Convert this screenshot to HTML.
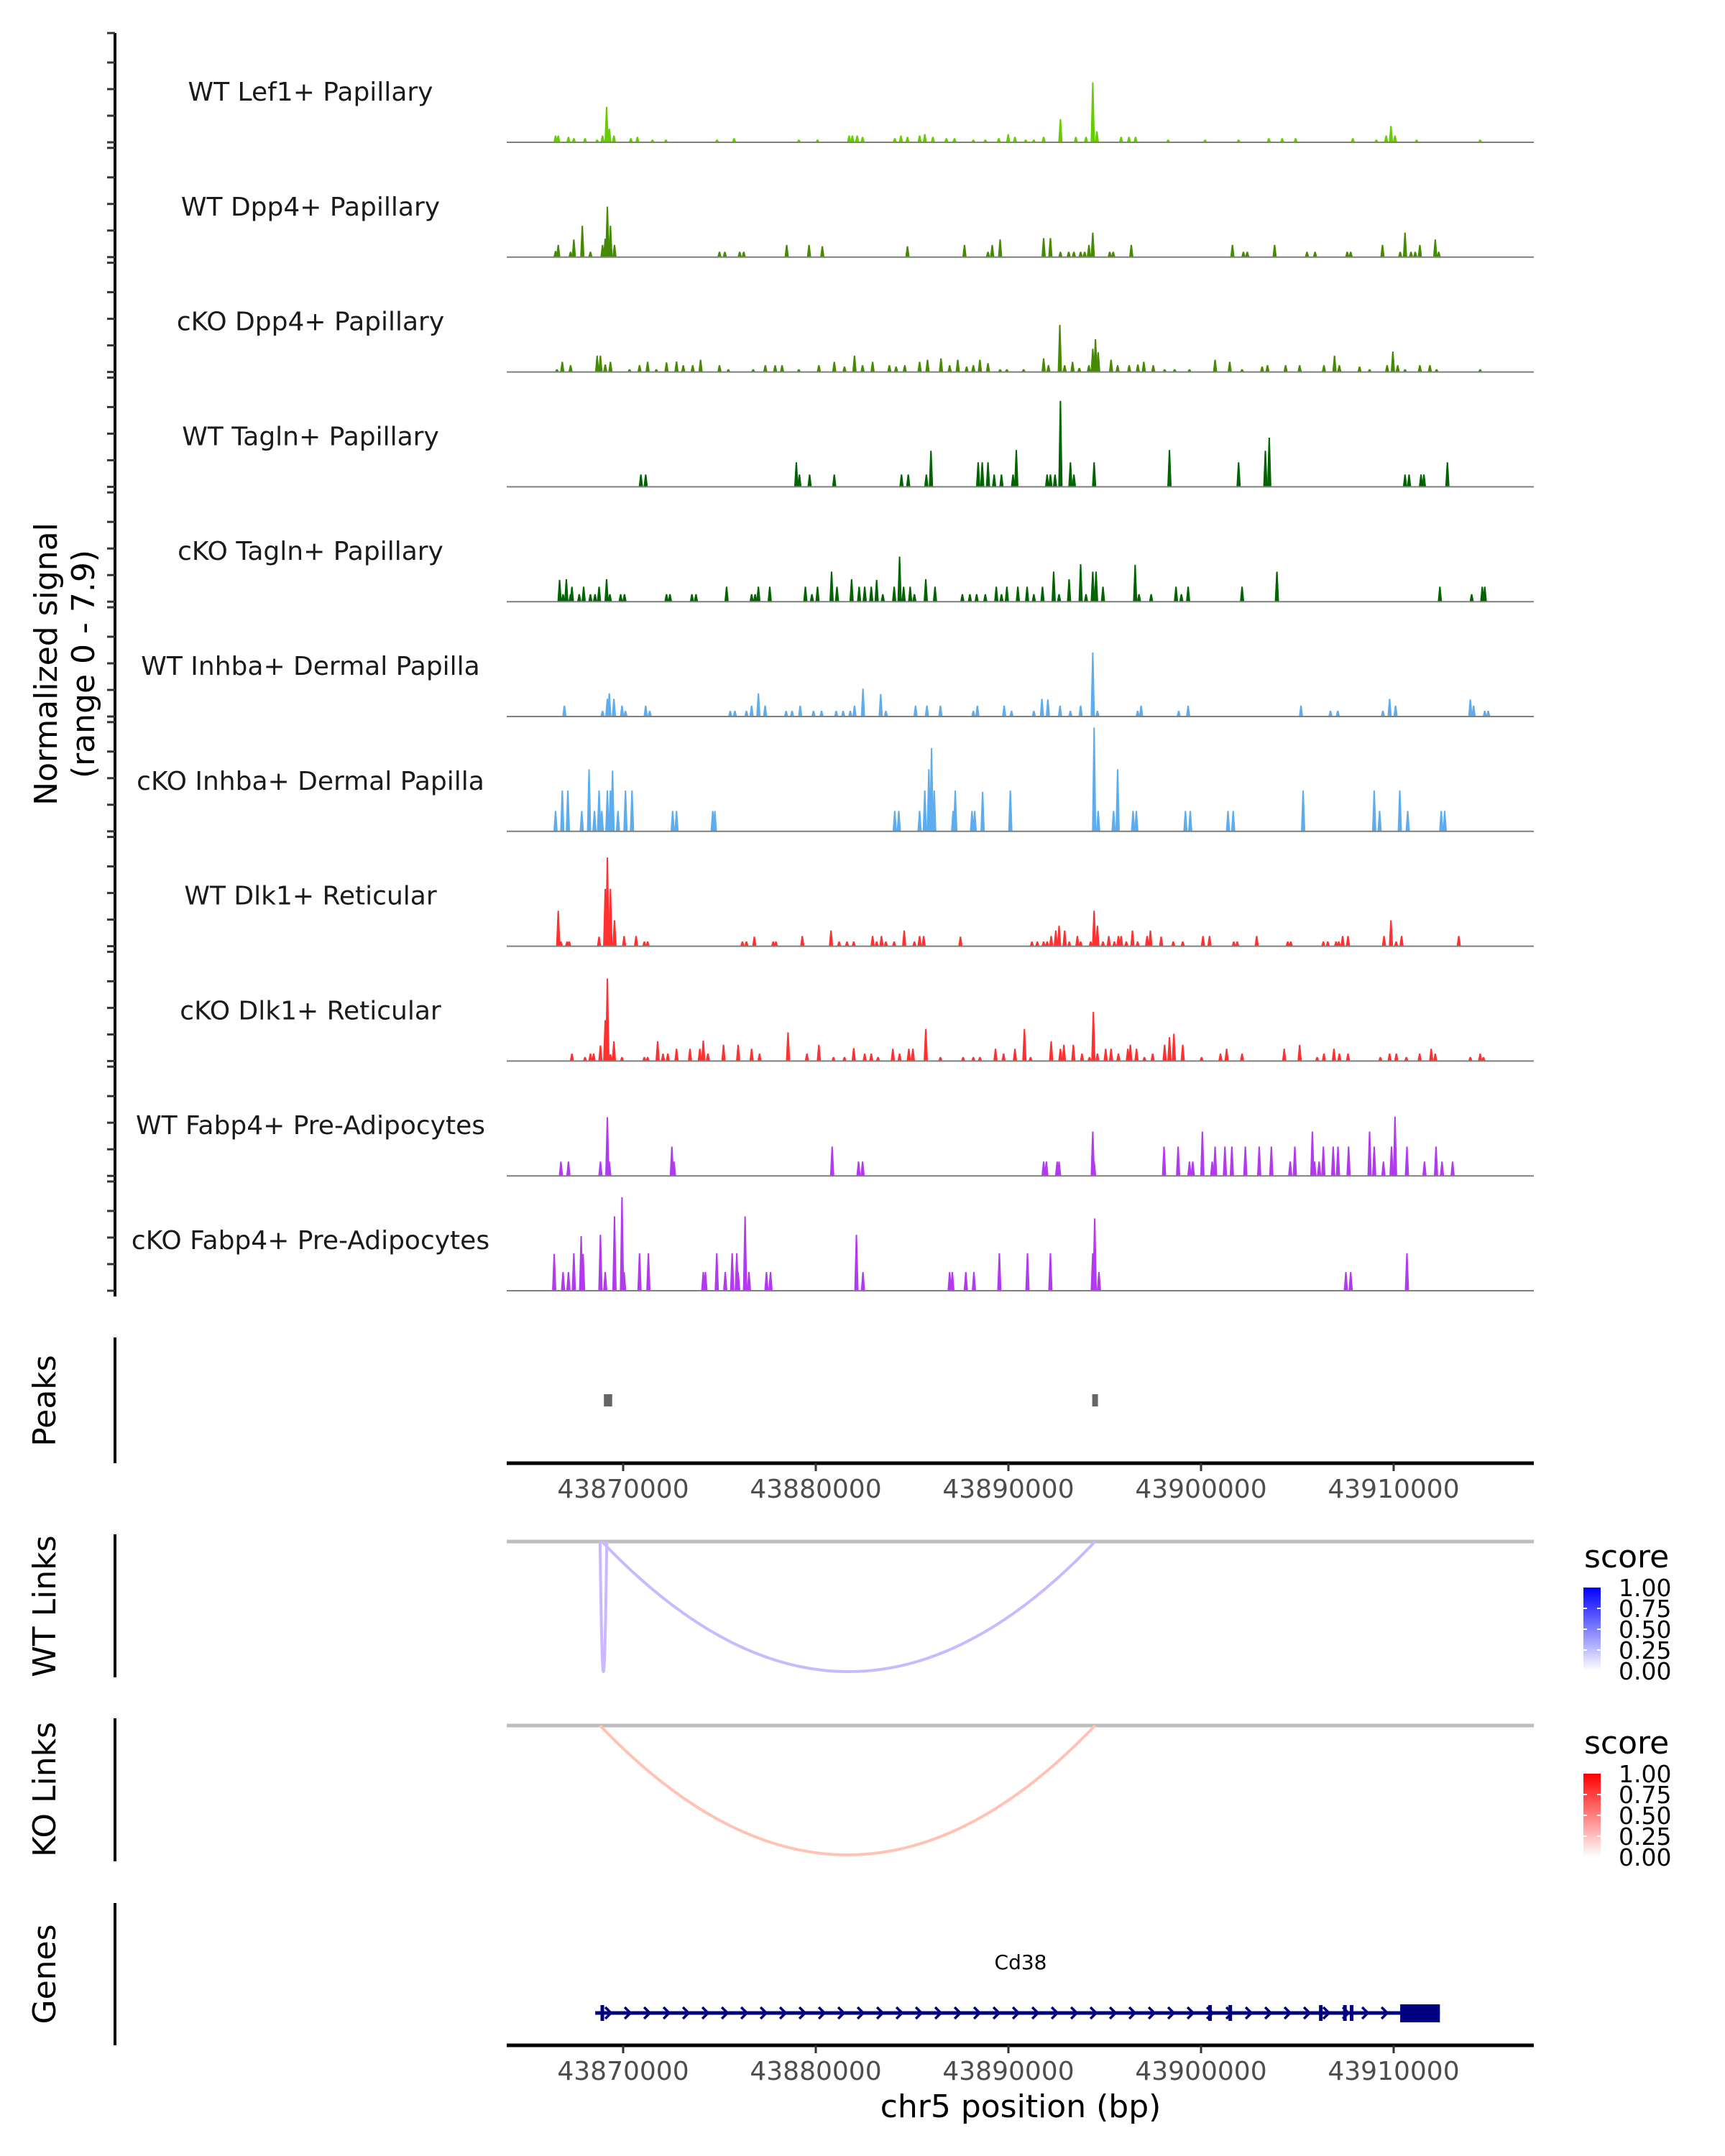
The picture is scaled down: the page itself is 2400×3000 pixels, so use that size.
<!DOCTYPE html>
<html><head><meta charset="utf-8"><style>
html,body{margin:0;padding:0;background:#fff;}
svg{display:block;font-family:"DejaVu Sans","Liberation Sans",sans-serif;}
</style></head><body>
<svg id="chart" width="2400" height="3000" viewBox="0 0 2400 3000" xmlns="http://www.w3.org/2000/svg">
<defs>
<linearGradient id="gBlue" x1="0" y1="0" x2="0" y2="1"><stop offset="0" stop-color="#0000ff"/><stop offset="1" stop-color="#ffffff"/></linearGradient>
<linearGradient id="gRed" x1="0" y1="0" x2="0" y2="1"><stop offset="0" stop-color="#ff0000"/><stop offset="1" stop-color="#ffffff"/></linearGradient>
</defs>
<g id="tracks"></g>
<g id="axes"></g>
</svg>
<script>
// genomic coordinates in kb, relative to 43860000 bp
const regionOriginKb = 43860;
const xTicksBp = [43870000, 43880000, 43890000, 43900000, 43910000];
const trackNames = ["WT Lef1+ Papillary","WT Dpp4+ Papillary","cKO Dpp4+ Papillary","WT Tagln+ Papillary","cKO Tagln+ Papillary","WT Inhba+ Dermal Papilla","cKO Inhba+ Dermal Papilla","WT Dlk1+ Reticular","cKO Dlk1+ Reticular","WT Fabp4+ Pre-Adipocytes","cKO Fabp4+ Pre-Adipocytes"];
const trackColors = ["#66cd00","#458b00","#458b00","#006400","#006400","#5cacee","#5cacee","#ff3030","#ff3030","#b23aee","#b23aee"];
const signalMax = 7.9;
const lef1WT = [[6.49,.5],[6.63,.5],[7.16,.4],[7.44,.3],[8.02,.3],[8.65,.2],[8.93,.5],[9.14,2.6],[9.28,1.0],[9.52,.5],[10.40,.3],[10.74,.4],[11.52,.2],[12.22,.2],[14.87,.2],[15.76,.3],[19.12,.2],[20.09,.2],[21.73,.5],[21.90,.5],[22.15,.5],[22.43,.4],[24.10,.3],[24.42,.5],[24.76,.4],[25.39,.5],[25.66,.6],[26.08,.4],[26.78,.3],[27.20,.3],[28.18,.2],[28.80,.2],[29.50,.3],[29.99,.6],[30.34,.4],[30.90,.2],[31.32,.2],[31.83,.4],[32.70,1.7],[33.50,.4],[34.03,.4],[34.38,4.4],[34.59,.8],[35.85,.4],[36.26,.4],[36.60,.4],[38.29,.2],[40.21,.2],[41.95,.2],[43.52,.3],[44.21,.3],[44.91,.3],[47.88,.3],[49.10,.2],[49.61,.5],[49.86,1.2],[50.07,.5],[51.19,.2],[54.49,.2]];
const dpp4WT = [[6.49,.45],[6.63,.9],[7.27,.4],[7.44,1.3],[7.88,2.3],[8.30,.4],[8.93,.9],[9.07,1.35],[9.18,3.7],[9.34,2.3],[9.55,.9],[15.00,.4],[15.28,.4],[16.05,.4],[16.26,.4],[18.49,.9],[19.65,.9],[20.34,.8],[24.76,.8],[27.72,.9],[28.94,.4],[29.16,.9],[29.57,1.3],[31.83,1.4],[32.18,1.4],[32.70,.4],[33.13,.4],[33.40,.4],[33.75,.4],[33.96,.4],[34.18,.9],[34.38,1.8],[35.26,.4],[35.44,.4],[36.38,.9],[41.63,.9],[42.20,.4],[42.40,.4],[43.82,.9],[45.50,.4],[45.92,.4],[47.59,.4],[47.77,.4],[49.42,.9],[50.34,.4],[50.59,1.8],[50.90,.4],[51.12,.4],[51.36,.9],[52.16,1.3],[52.34,.4]];
const dpp4KO = [[6.56,.2],[6.84,.75],[7.27,.5],[8.65,1.2],[8.82,1.2],[9.07,.55],[9.34,.75],[10.33,.2],[10.85,.5],[11.27,.75],[11.72,.2],[12.25,.7],[12.77,.77],[13.12,.5],[13.61,.5],[14.02,.9],[15.00,.5],[15.46,.2],[16.75,.2],[17.38,.5],[17.89,.5],[18.25,.5],[19.12,.2],[20.16,.5],[20.96,.75],[21.49,.4],[22.01,1.2],[22.43,.5],[22.95,.75],[23.82,.5],[24.17,.4],[24.62,.5],[25.39,.75],[25.80,.9],[26.50,1.0],[26.95,.5],[27.37,.9],[27.83,.4],[28.18,.5],[28.52,.9],[28.94,.65],[29.57,.2],[29.92,.2],[30.79,.2],[31.83,1.0],[32.08,.5],[32.67,3.45],[32.92,.5],[33.33,.75],[33.68,.3],[34.18,.5],[34.38,1.7],[34.52,2.4],[34.66,1.45],[35.33,.9],[35.67,.5],[36.27,.5],[36.72,.55],[37.03,.75],[37.52,.5],[38.11,.2],[38.63,.2],[39.40,.2],[40.73,.9],[41.49,.75],[42.13,.2],[43.17,.4],[43.45,.5],[44.39,.5],[45.12,.5],[46.38,.5],[46.93,1.2],[47.18,.5],[48.23,.4],[48.75,.2],[49.66,.5],[49.96,1.5],[50.21,.5],[50.59,.2],[51.36,.5],[51.88,.5],[52.23,.2],[54.49,.2]];
const taglnWT = [[10.92,.9],[11.17,.9],[18.99,1.8],[19.15,.9],[19.68,.9],[20.96,.9],[24.45,.9],[24.80,.9],[25.74,.9],[25.98,2.65],[28.43,1.8],[28.64,1.8],[28.94,1.8],[29.26,.9],[29.64,.9],[30.24,.9],[30.41,2.7],[32.01,.9],[32.18,.9],[32.42,.9],[32.70,6.3],[33.22,1.8],[33.40,.9],[34.45,1.8],[38.36,2.7],[41.95,1.8],[43.34,2.65],[43.54,3.6],[50.59,.9],[50.80,.9],[51.42,.9],[51.57,.9],[52.79,1.8]];
const taglnKO = [[6.70,1.6],[6.88,.55],[7.05,1.65],[7.27,.55],[7.34,1.1],[7.72,.55],[7.95,1.1],[8.30,.55],[8.54,.55],[8.75,1.1],[9.14,1.65],[9.31,.55],[9.87,.55],[10.07,.55],[12.25,.55],[12.43,.55],[13.57,.55],[13.78,.55],[15.37,1.1],[16.67,.55],[16.85,.55],[17.02,1.1],[17.61,1.1],[19.46,1.1],[19.80,.55],[20.09,1.1],[20.82,2.2],[21.10,1.1],[21.86,1.65],[22.25,1.1],[22.54,1.1],[22.88,1.1],[23.16,1.6],[23.48,.55],[24.07,1.1],[24.35,3.3],[24.56,1.1],[24.90,1.1],[25.12,.55],[25.71,1.65],[26.19,1.1],[27.61,.55],[28.00,.55],[28.35,.55],[28.80,.55],[29.37,1.1],[29.64,.55],[29.92,1.1],[30.49,1.1],[30.97,1.1],[31.32,.55],[31.77,1.1],[32.35,2.2],[32.63,.55],[33.15,1.65],[33.75,2.75],[34.03,.55],[34.38,2.2],[34.55,2.2],[34.91,1.1],[36.58,2.7],[36.78,.55],[37.41,.55],[38.70,1.1],[38.98,.55],[39.33,1.1],[42.13,1.1],[43.94,2.2],[52.40,1.1],[54.05,.55],[54.60,1.1],[54.73,1.1]];
const inhbaWT = [[6.95,.8],[8.93,.42],[9.18,1.3],[9.28,1.7],[9.52,1.3],[9.94,.8],[10.12,.42],[11.17,.8],[11.38,.42],[15.56,.42],[15.80,.42],[16.40,.42],[16.67,.8],[17.02,1.7],[17.37,.8],[18.46,.42],[18.77,.42],[19.19,.8],[19.88,.42],[20.30,.42],[21.06,.42],[21.42,.42],[21.79,.42],[22.01,.8],[22.45,2.05],[23.37,1.65],[23.64,.42],[25.18,.8],[25.77,.8],[26.47,.8],[28.18,.42],[28.39,.8],[29.78,.8],[30.16,.42],[31.32,.42],[31.74,1.3],[32.05,1.25],[32.68,.8],[33.22,.42],[33.75,.8],[34.38,4.7],[34.62,.42],[36.71,.42],[36.89,.8],[38.84,.42],[39.33,.8],[45.19,.8],[46.72,.42],[47.10,.42],[49.44,.42],[49.79,1.3],[50.10,.8],[53.98,1.25],[54.15,.8],[54.73,.42],[54.91,.42]];
const inhbaKO = [[6.49,1.5],[6.84,3.0],[7.13,3.0],[7.85,1.5],[8.23,4.55],[8.51,1.5],[8.75,3.0],[8.89,1.5],[9.18,3.0],[9.34,3.0],[9.45,4.45],[9.73,1.5],[10.12,3.0],[10.46,3.0],[12.57,1.5],[12.77,1.5],[14.65,1.5],[14.76,1.5],[24.10,1.5],[24.31,1.5],[25.39,1.5],[25.66,3.0],[25.87,4.55],[26.01,6.1],[26.15,3.0],[27.13,1.5],[27.24,3.0],[28.11,1.5],[28.25,1.5],[28.66,2.9],[30.10,3.0],[34.45,7.6],[34.66,1.5],[35.46,1.5],[35.67,4.55],[36.47,1.5],[36.64,1.5],[39.19,1.5],[39.44,1.5],[41.40,1.5],[41.67,1.5],[45.30,3.0],[48.99,3.0],[49.27,1.5],[50.32,3.0],[50.73,1.5],[52.47,1.5],[52.65,1.5]];
const dlk1WT = [[6.63,2.6],[6.77,.35],[7.09,.35],[7.20,.35],[8.75,.7],[9.07,4.2],[9.18,6.5],[9.34,4.2],[9.55,1.9],[10.05,.75],[10.67,.75],[11.10,.35],[11.27,.35],[16.19,.35],[16.40,.35],[16.81,.7],[17.79,.35],[17.93,.35],[19.30,.75],[20.79,1.15],[21.21,.35],[21.62,.35],[21.97,.35],[22.95,.75],[23.16,.35],[23.41,.75],[23.64,.35],[24.07,.35],[24.59,1.15],[25.12,.35],[25.39,.75],[25.60,.75],[27.51,.7],[31.22,.35],[31.50,.35],[31.83,.35],[32.01,.35],[32.22,.75],[32.46,1.15],[32.63,1.5],[32.92,1.15],[33.16,.35],[33.58,.75],[33.75,.35],[34.27,.35],[34.45,2.6],[34.62,1.5],[34.91,.35],[35.21,.75],[35.50,.35],[35.71,.75],[35.85,.75],[36.12,.35],[36.44,1.15],[36.71,.35],[37.20,.75],[37.37,1.15],[37.93,.7],[38.56,.35],[39.05,.35],[40.10,.75],[40.44,.75],[41.70,.35],[41.88,.35],[42.89,.75],[44.50,.35],[44.66,.35],[46.35,.35],[46.58,.35],[47.01,.35],[47.15,.35],[47.35,.75],[47.63,.75],[49.50,.75],[49.86,1.9],[50.13,.35],[50.41,.75],[53.38,.75]];
const dlk1KO = [[7.34,.55],[8.02,.3],[8.30,.55],[8.47,.55],[8.82,1.15],[9.07,3.0],[9.18,6.05],[9.34,.5],[9.52,1.45],[9.94,.3],[11.10,.3],[11.27,.3],[11.79,1.45],[12.07,.55],[12.32,.55],[12.77,.9],[13.47,.9],[13.98,.9],[14.16,1.5],[14.40,.55],[15.21,1.2],[15.97,1.2],[16.67,.9],[17.08,.55],[18.56,2.1],[19.54,.55],[20.16,1.2],[20.92,.3],[21.49,.3],[21.97,.95],[22.54,.55],[22.88,.55],[23.23,.3],[24.00,.9],[24.35,.55],[24.83,.9],[25.04,.9],[25.71,2.35],[26.47,.3],[27.65,.3],[28.18,.3],[28.52,.3],[29.33,.9],[29.75,.55],[30.34,.9],[30.83,2.35],[31.15,.3],[32.22,1.45],[32.70,.9],[32.88,1.2],[33.37,1.2],[33.82,.55],[34.21,.3],[34.41,3.6],[34.62,.55],[35.05,.9],[35.33,.9],[35.71,.55],[36.20,.9],[36.33,1.2],[36.65,.9],[37.06,.3],[37.49,.55],[38.11,1.2],[38.36,1.75],[38.59,2.0],[39.05,1.2],[40.03,.3],[41.01,.55],[41.33,.9],[42.13,.55],[44.32,.9],[45.12,1.2],[46.03,.3],[46.38,.55],[46.90,.9],[47.18,.55],[47.63,.55],[49.31,.3],[49.79,.55],[50.14,.55],[50.66,.3],[51.35,.55],[51.95,.9],[52.16,.55],[53.98,.3],[54.49,.55],[54.66,.3]];
const fabp4WT = [[6.77,1.05],[7.16,1.05],[8.82,1.05],[9.18,4.3],[9.28,1.05],[12.53,2.15],[12.64,1.05],[20.85,2.15],[22.22,1.05],[22.43,1.05],[31.83,1.05],[31.97,1.05],[32.53,1.05],[32.63,1.05],[34.38,3.25],[34.45,1.05],[38.08,2.15],[38.81,2.15],[39.40,1.05],[39.57,1.05],[40.07,3.25],[40.58,1.05],[40.73,2.15],[41.24,2.15],[41.60,2.15],[42.30,2.15],[43.02,2.15],[43.65,2.15],[44.63,1.05],[44.87,2.15],[45.78,3.25],[45.89,1.05],[46.13,1.05],[46.35,2.15],[46.86,2.15],[47.11,2.15],[47.66,2.15],[48.75,3.25],[48.99,2.15],[49.47,1.05],[49.89,2.15],[50.07,4.35],[50.69,2.15],[51.60,1.05],[52.20,2.15],[52.51,1.05],[53.06,1.05]];
const fabp4KO = [[6.42,2.7],[6.88,1.37],[7.16,1.37],[7.44,2.75],[7.82,4.0],[7.92,2.7],[8.82,4.1],[9.07,1.37],[9.55,5.45],[9.94,6.85],[10.05,1.37],[10.85,2.75],[11.31,2.75],[14.16,1.37],[14.27,1.37],[14.86,2.75],[15.30,1.37],[15.66,2.75],[15.90,2.75],[15.97,1.37],[16.33,5.45],[16.53,1.37],[17.44,1.37],[17.65,1.37],[22.11,4.1],[22.45,1.37],[26.95,1.37],[27.09,1.37],[27.79,1.37],[28.21,1.37],[29.53,2.75],[30.99,2.75],[32.18,2.75],[34.38,2.75],[34.48,5.3],[34.70,1.37],[47.52,1.37],[47.77,1.37],[50.69,2.75]];
const trackSeries = [lef1WT,dpp4WT,dpp4KO,taglnWT,taglnKO,inhbaWT,inhbaKO,dlk1WT,dlk1KO,fabp4WT,fabp4KO];
const peakRegionsKb = [[9.0,9.43],[34.35,34.55]];
const wtLinkStartKb = [8.9, 8.8];
const wtLinkEndKb = [34.5, 9.15];
const wtLinkScore = [0.3, 0.3];
const koLinkStartKb = [8.8];
const koLinkEndKb = [34.5];
const koLinkScore = [0.3];
const geneStartKb = 8.55, geneEndKb = 52.4;
const geneBlockKb = [50.34, 52.4];
const exonKb = [8.9, 40.45, 41.5, 46.2, 47.45, 47.8];
const legendLabels = ["1.00","0.75","0.50","0.25","0.00"];

const NS = "http://www.w3.org/2000/svg";
const tracksG = document.getElementById('tracks');
const axesG = document.getElementById('axes');
function xS(kb){ return 867 + (regionOriginKb + kb - 43870) * 26.8; }
function yS(v, base){ return base - v / signalMax * 150; }
const plotL = 705, plotR = 2134;
function mk(tag, attrs, parent){ const e = document.createElementNS(NS, tag); for (const k in attrs) e.setAttribute(k, attrs[k]); parent.appendChild(e); return e; }
function txt(s, attrs, parent){ const t = mk('text', attrs, parent); t.textContent = s; return t; }

const la = mk('line',{x1:160,y1:46,x2:160,y2:1804,stroke:'#000','stroke-width':4},axesG);



trackSeries.forEach((series, i) => {
  const base = 198 + i * 159.8;
  const g = mk('g',{},tracksG);
  
  
  const lab = txt(trackNames[i],{x:432,y:base-58,'text-anchor':'middle','font-size':36,fill:'#1a1a1a'},g);
  
  
  series.forEach(d => {
    const x = xS(d[0]), y = yS(d[1], base);
    const p = mk('polygon',{points:`${x-3},${base} ${x-1},${y} ${x+1},${y} ${x+3},${base}`,fill:trackColors[i]},g);
    
    
  });
  const bl = mk('line',{x1:plotL,y1:base,x2:plotR,y2:base,stroke:'#7f7f7f','stroke-width':2},g);
  
  
  [0,2,4,6].forEach(v => {
    const ty = base - v * 18.5;
    const t = mk('line',{x1:149,y1:ty,x2:160,y2:ty,stroke:'#333','stroke-width':3},axesG);
    
    
  });
  const t2 = mk('line',{x1:149,y1:base-152,x2:160,y2:base-152,stroke:'#333','stroke-width':3},axesG);
  
  
});

const yt = txt('',{transform:'translate(0,924) rotate(-90)','text-anchor':'middle','font-size':44,fill:'#000'},axesG);


const s1 = mk('tspan',{x:0,y:79},yt); s1.textContent = 'Normalized signal';
const s2 = mk('tspan',{x:0,y:131},yt); s2.textContent = '(range 0 - 7.9)';

function panelLabel(name, label, cy, y1, y2){
  const l = mk('line',{x1:160,y1:y1,x2:160,y2:y2,stroke:'#000','stroke-width':4},axesG);
  
  
  const t = txt(label,{transform:`translate(77,${cy}) rotate(-90)`,'text-anchor':'middle','font-size':44,fill:'#000'},axesG);
  
  
}
panelLabel('peaks','Peaks',1949,1861,2036);
panelLabel('wt-links','WT Links',2235,2135,2334);
panelLabel('ko-links','KO Links',2490,2391,2590);
panelLabel('genes','Genes',2747,2648,2846);

peakRegionsKb.forEach(r => {
  const x1 = xS(r[0]), x2 = Math.max(xS(r[1]), x1 + 8);
  const p = mk('rect',{x:x1,y:1940,width:x2-x1,height:17,fill:'#666'},tracksG);
  
  
});

function xAxis(name, y){
  const a = mk('line',{x1:plotL,y1:y,x2:plotR,y2:y,stroke:'#000','stroke-width':5},axesG);
  
  
  xTicksBp.forEach(b => {
    const x = xS(b/1000 - regionOriginKb);
    const t = mk('line',{x1:x,y1:y,x2:x,y2:y+11,stroke:'#333','stroke-width':3},axesG);
    
    
    const l = txt(String(b),{x:x,y:y+48,'text-anchor':'middle','font-size':36,fill:'#4d4d4d'},axesG);
    
    
  });
}
xAxis('peaks-x-axis',2036);
xAxis('genes-x-axis',2846);
const xt = txt('chr5 position (bp)',{x:1420,y:2946,'text-anchor':'middle','font-size':44,fill:'#000'},axesG);



function links(name, base, bottom, starts, ends, scores, col){
  const gl = mk('line',{x1:plotL,y1:base,x2:plotR,y2:base,stroke:'#bebebe','stroke-width':5},tracksG);
  
  
  starts.forEach((s, i) => {
    const x1 = xS(s), x2 = xS(ends[i]);
    const cy = 2 * bottom - base;
    const p = mk('path',{d:`M${x1},${base} Q${(x1+x2)/2},${cy} ${x2},${base}`,fill:'none',stroke:col(scores[i]),'stroke-width':4},tracksG);
    
    
  });
}
links('wt-link',2145,2326,wtLinkStartKb,wtLinkEndKb,wtLinkScore,s => `rgb(${Math.round(255-s*255*0.68)},${Math.round(255-s*255*0.92)},255)`);
links('ko-link',2401,2581,koLinkStartKb,koLinkEndKb,koLinkScore,s => `rgb(255,${Math.round(255-s*255*0.8)},${Math.round(255-s*255*1.0)})`);

function legend(name, top, grad){
  const g = mk('g',{},axesG);
  
  
  txt('score',{x:2204,y:top,'font-size':44,fill:'#000'},g);
  const b = mk('rect',{x:2203,y:top+28,width:24,height:116,fill:`url(#${grad})`},g);
  
  
  legendLabels.forEach((l, i) => {
    const y = top + 28 + i * 29;
    txt(l,{x:2252,y:y+12,'font-size':33,fill:'#000'},g);
    if (i > 0 && i < 4) { mk('line',{x1:2203,y1:y,x2:2208,y2:y,stroke:'#fff','stroke-width':2},g); mk('line',{x1:2222,y1:y,x2:2227,y2:y,stroke:'#fff','stroke-width':2},g); }
  });
}
legend('wt-score-legend',2181,'gBlue');
legend('ko-score-legend',2440,'gRed');

const gg = mk('g',{},tracksG);


const gy = 2801;
mk('line',{x1:xS(geneStartKb),y1:gy,x2:xS(geneEndKb),y2:gy,stroke:'#000080','stroke-width':5},gg);
for (let x = xS(geneStartKb) + 18; x < xS(geneBlockKb[0]) - 8; x += 27) {
  mk('polyline',{points:`${x-4},${gy-8} ${x+4},${gy} ${x-4},${gy+8}`,fill:'none',stroke:'#000080','stroke-width':3.5},gg);
}
exonKb.forEach(k => { mk('rect',{x:xS(k)-2,y:gy-11,width:5,height:22,fill:'#000080'},gg); });
mk('rect',{x:xS(geneBlockKb[0]),y:2789,width:xS(geneBlockKb[1])-xS(geneBlockKb[0]),height:25,fill:'#000080'},gg);
const gl = txt('Cd38',{x:1420,y:2740,'text-anchor':'middle','font-size':28,fill:'#000'},gg);


</script>
</body></html>
